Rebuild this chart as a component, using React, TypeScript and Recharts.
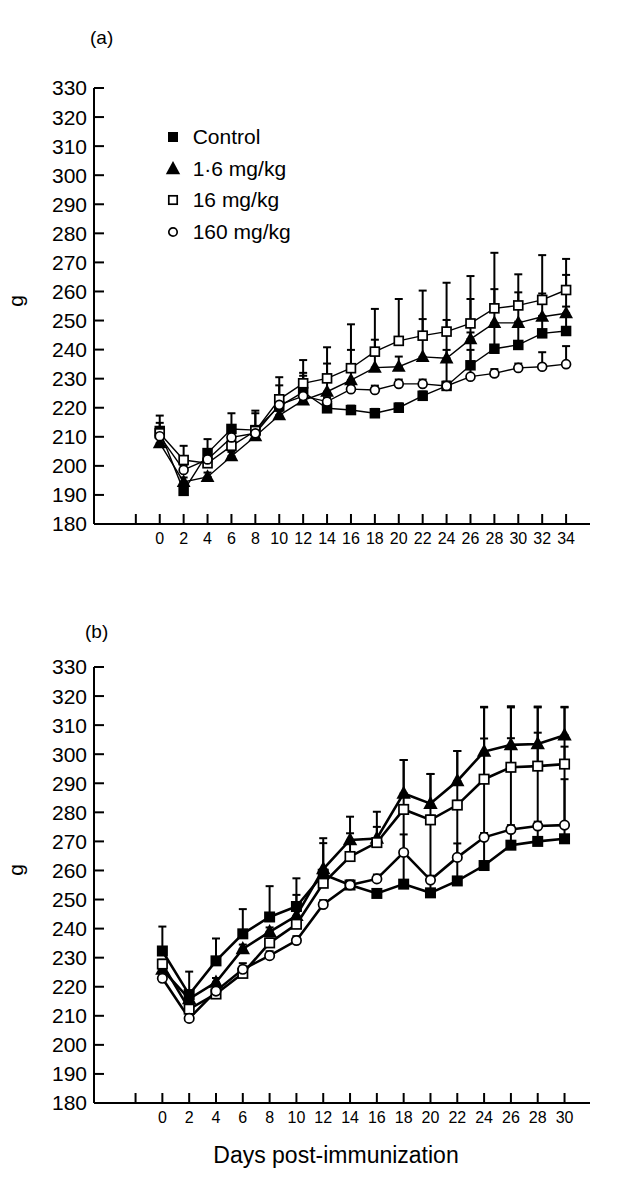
import React from 'react';
import { LineChart, Line, XAxis, YAxis, ErrorBar, Legend } from 'recharts';

const FONT = '"Liberation Sans", Arial, Helvetica, sans-serif';

// ---------- Panel (a) ----------
const daysA = [0, 2, 4, 6, 8, 10, 12, 14, 16, 18, 20, 22, 24, 26, 28, 30, 32, 34];
const controlA = [212, 191.4, 204.4, 212.7, 212.3, 220.5, 225.4, 219.8, 219.2, 218.1, 220.0, 224.1, 227.5, 234.6, 240.3, 241.6, 245.6, 246.4];
const lowA = [207.8, 194.5, 196.2, 203.3, 210.2, 217.4, 222.5, 225.5, 229.5, 233.8, 234.1, 237.5, 237.0, 243.6, 249.2, 249.2, 251.3, 252.5];
const midA = [211.2, 202.0, 200.9, 206.9, 212.0, 222.9, 228.4, 230.1, 233.6, 239.3, 243.0, 244.8, 246.2, 249.0, 254.2, 255.2, 257.1, 260.5];
const highA = [210.2, 198.6, 202.2, 209.8, 211.2, 221.0, 224.0, 222.1, 226.4, 226.1, 228.2, 228.2, 227.5, 230.7, 231.8, 233.7, 234.1, 235.0];
const controlErrA = [5.3, 1.5, 4.8, 5.4, 5.8, 7.2, 5.6, 1.5, 1.5, 1.5, 1.5, 1.5, 12.4, 11.3, 8, 8, 6, 8.4];
const lowErrA = [1.5, 1.5, 1.5, 1.5, 1.5, 1.5, 9.5, 9.7, 10.4, 9.6, 3.5, 13, 13.2, 13.8, 11.6, 10.5, 8, 13.2];
const midErrA = [3.6, 4.9, 1.5, 1.5, 7, 7.6, 8, 10.7, 15.1, 14.7, 14.4, 15.5, 16.8, 16.3, 19.1, 10.7, 15.4, 10.7];
const highErrA = [1.5, 1.5, 1.5, 1.5, 1.5, 1.5, 1.5, 1.5, 1.5, 1.5, 1.5, 1.5, 1.5, 9.2, 1.5, 1.5, 5, 6.2];

// ---------- Panel (b) ----------
const daysB = [0, 2, 4, 6, 8, 10, 12, 14, 16, 18, 20, 22, 24, 26, 28, 30];
const controlB = [232.3, 217.3, 228.9, 238.2, 244.0, 247.6, 258.7, 255.0, 252.1, 255.3, 252.3, 256.4, 261.7, 268.7, 270.0, 270.9];
const lowB = [225.9, 215.8, 221.5, 233.0, 238.9, 244.4, 260.5, 270.5, 271.0, 286.5, 283.0, 290.8, 300.9, 303.2, 303.5, 306.5];
const midB = [227.8, 212.3, 217.5, 224.6, 235.1, 241.5, 255.6, 264.8, 269.6, 281.0, 277.4, 282.5, 291.4, 295.5, 295.9, 296.6];
const highB = [222.9, 209.1, 218.5, 226.0, 230.7, 235.9, 248.3, 255.0, 257.1, 266.2, 256.7, 264.5, 271.4, 274.1, 275.3, 275.6];
const controlErrB = [8.4, 7.9, 7.7, 8.5, 10.6, 9.7, 10.7, 1.5, 1.5, 42.7, 40.9, 44.7, 54.6, 47.4, 46.1, 45.2];
const lowErrB = [1.5, 1.5, 1.5, 1.5, 1.5, 7.2, 10.6, 8, 9.2, 11.5, 10.2, 10.3, 15.2, 13.3, 12.9, 9.8];
const midErrB = [1.5, 1.5, 1.5, 1.5, 1.5, 1.5, 1.5, 8, 5.4, 1.5, 1.5, 1.5, 14, 10, 11.5, 6];
const highErrB = [1.5, 1.5, 1.5, 2.1, 1.5, 1.5, 1.5, 1.5, 1.5, 6.2, 1.5, 4.8, 1.5, 1.5, 1.5, 15.8];

const yTicks = [180, 190, 200, 210, 220, 230, 240, 250, 260, 270, 280, 290, 300, 310, 320, 330];
const xTicksA = [-2, 0, 2, 4, 6, 8, 10, 12, 14, 16, 18, 20, 22, 24, 26, 28, 30, 32, 34];
const xTicksB = [-2, 0, 2, 4, 6, 8, 10, 12, 14, 16, 18, 20, 22, 24, 26, 28, 30];

const seriesNames = ['Control', '1·6 mg/kg', '16 mg/kg', '160 mg/kg'];

const dataA = daysA.map((d, i) => ({
  day: d,
  control: controlA[i], controlErr: [0, controlErrA[i]],
  low: lowA[i], lowErr: [0, lowErrA[i]],
  mid: midA[i], midErr: [0, midErrA[i]],
  high: highA[i], highErr: [0, highErrA[i]],
}));
const dataB = daysB.map((d, i) => ({
  day: d,
  control: controlB[i], controlErr: [0, controlErrB[i]],
  low: lowB[i], lowErr: [0, lowErrB[i]],
  mid: midB[i], midErr: [0, midErrB[i]],
  high: highB[i], highErr: [0, highErrB[i]],
}));

type Kind = 'fsq' | 'ftri' | 'osq' | 'ocirc';

function Marker({ kind, cx, cy, s }: { kind: Kind; cx: number; cy: number; s: number }) {
  if (cx == null || cy == null || isNaN(cx) || isNaN(cy)) return null;
  if (kind === 'fsq') return <rect x={cx - s / 2} y={cy - s / 2} width={s} height={s} fill="#000" />;
  if (kind === 'ftri') {
    const w = s * 1.2;
    const h = s * 1.1;
    return (
      <polygon
        points={`${cx},${cy - h * 0.6} ${cx - w / 2},${cy + h * 0.4} ${cx + w / 2},${cy + h * 0.4}`}
        fill="#000"
      />
    );
  }
  if (kind === 'osq') {
    const q = s - 1.6;
    return <rect x={cx - q / 2} y={cy - q / 2} width={q} height={q} fill="#fff" stroke="#000" strokeWidth={1.7} />;
  }
  return <circle cx={cx} cy={cy} r={s / 2 - 0.8} fill="#fff" stroke="#000" strokeWidth={1.7} />;
}

const dotFor = (kind: Kind, s: number) => (p: any) =>
  <Marker key={`${kind}-${p.index}`} kind={kind} cx={p.cx} cy={p.cy} s={s} />;

const kinds: Kind[] = ['fsq', 'ftri', 'osq', 'ocirc'];

const LegendContent = () => (
  <div style={{ fontFamily: FONT, fontSize: 21, color: '#000' }}>
    {seriesNames.map((n, i) => (
      <div key={n} style={{ height: 31.7, display: 'flex', alignItems: 'center' }}>
        <svg width={18} height={18} style={{ display: 'block' }}>
          <Marker kind={kinds[i]} cx={9} cy={9} s={i === 1 ? 12 : 10} />
        </svg>
        <span style={{ marginLeft: 10.7, lineHeight: '31.7px', whiteSpace: 'nowrap' }}>{n}</span>
      </div>
    ))}
  </div>
);

function Panel({
  data, ticks, domain, height, top, lineWidth, showLegend, markerSize,
}: {
  data: any[]; ticks: number[]; domain: [number, number]; height: number; top: number; lineWidth: number; showLegend: boolean; markerSize: number;
}) {
  const keys = ['control', 'low', 'mid', 'high'];
  return (
    <LineChart
      width={629}
      height={height}
      data={data}
      margin={{ top, right: 39, left: 0, bottom: height - top - 436 - 40 }}
    >
      <XAxis
        type="number"
        dataKey="day"
        domain={domain}
        ticks={ticks}
        interval={0}
        allowDataOverflow
        tickFormatter={(v: number) => (v < 0 ? '' : String(v))}
        tickSize={-10}
        tickMargin={19}
        height={40}
        axisLine={{ stroke: '#000', strokeWidth: 2 }}
        tickLine={{ stroke: '#000', strokeWidth: 2 }}
        tick={{ fill: '#000', fontSize: 16, fontFamily: FONT }}
      />
      <YAxis
        type="number"
        domain={[180, 330]}
        ticks={yTicks}
        interval={0}
        allowDataOverflow
        width={94}
        tickSize={-10}
        tickMargin={17}
        axisLine={{ stroke: '#000', strokeWidth: 2 }}
        tickLine={{ stroke: '#000', strokeWidth: 2 }}
        tick={{ fill: '#000', fontSize: 21, fontFamily: FONT }}
      />
      {showLegend && (
        <Legend
          layout="vertical"
          align="center"
          verticalAlign="middle"
          content={<LegendContent />}
          wrapperStyle={{ left: 164, top: 121, width: 200, height: 130 }}
        />
      )}
      {keys.map((k, i) => (
        <Line
          key={k}
          type="linear"
          dataKey={k}
          name={seriesNames[i]}
          stroke="#000"
          strokeWidth={lineWidth}
          isAnimationActive={false}
          dot={dotFor(kinds[i], i === 1 ? markerSize + 1 : markerSize)}
          activeDot={false}
          legendType="none"
        >
          <ErrorBar dataKey={`${k}Err`} direction="y" width={4} strokeWidth={2} stroke="#000" />
        </Line>
      ))}
    </LineChart>
  );
}

export default function App() {
  return (
    <div style={{ position: 'absolute', left: 0, top: 0, width: 629, height: 1179, background: '#fff' }}>
      <div style={{ position: 'absolute', left: 0, top: 0 }}>
        <Panel data={dataA} ticks={xTicksA} domain={[-5.5, 36]} height={590} top={88} lineWidth={1.4} showLegend markerSize={10.5} />
      </div>
      <div style={{ position: 'absolute', left: 0, top: 590 }}>
        <Panel data={dataB} ticks={xTicksB} domain={[-5.1, 31.9]} height={589} top={77} lineWidth={2.6} showLegend={false} markerSize={11} />
      </div>
      <svg width={629} height={1179} style={{ position: 'absolute', left: 0, top: 0, pointerEvents: 'none' }}>
        <text x={90} y={44} fontFamily={FONT} fontSize={19} fill="#000">(a)</text>
        <text x={85} y={638} fontFamily={FONT} fontSize={19} fill="#000">(b)</text>
        <text x={15} y={301} fontFamily={FONT} fontSize={21} fill="#000" textAnchor="middle" dominantBaseline="central" transform="rotate(-90 15 301)">g</text>
        <text x={15} y={870} fontFamily={FONT} fontSize={21} fill="#000" textAnchor="middle" dominantBaseline="central" transform="rotate(-90 15 870)">g</text>
        <text x={336} y={1163} fontFamily={FONT} fontSize={23} fill="#000" textAnchor="middle">Days post-immunization</text>
      </svg>
    </div>
  );
}
